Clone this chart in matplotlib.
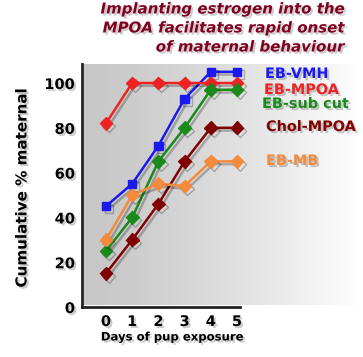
import matplotlib
matplotlib.use('Agg')
import matplotlib.pyplot as plt
import matplotlib.patheffects as pe
import numpy as np

# ---------------------------------------------------------------------------
# Data
# ---------------------------------------------------------------------------
days = [0, 1, 2, 3, 4, 5]

eb_vmh   = [45, 55, 72, 93, 105, 105]
eb_mpoa  = [82, 100, 100, 100, 100, 100]
eb_sub   = [25, 40, 65, 80, 97, 97]
chol     = [15, 30, 46, 65, 80, 80]
eb_mb    = [30, 50, 55, 54, 65, 65]

series_names = ['EB-VMH', 'EB-MPOA', 'EB-sub cut', 'Chol-MPOA', 'EB-MB']
series_vals  = [eb_vmh, eb_mpoa, eb_sub, chol, eb_mb]
colors       = ['#1a1aee', '#ee2222', '#1a8a1a', '#800000', '#f58a3a']
markers      = ['s', 'D', 'D', 'D', 'D']
yticks       = [0, 20, 40, 60, 80, 100]

title_lines = ['Implanting estrogen into the',
               'MPOA facilitates rapid onset',
               'of maternal behaviour']

# ---------------------------------------------------------------------------
# Figure
# ---------------------------------------------------------------------------
W, H = 363, 357
fig = plt.figure(figsize=(W / 100, H / 100), dpi=100)

# axes from pixel coords
x0_px, y0_px = 82, 307
ax = fig.add_axes([x0_px / W, (H - y0_px) / H, (W - x0_px) / W, (y0_px - 64) / H])
px_per_day = 26.2
px_per_unit = 2.24
xmin = -(106 - x0_px) / px_per_day
xmax = (W - 106) / px_per_day
ymax = (y0_px - 64) / px_per_unit
ax.set_xlim(xmin, xmax)
ax.set_ylim(0, ymax)

# gradient background
grad = np.linspace(0, 1, 256)
shade = 0.78 + 0.22 * grad ** 1.3
img = np.dstack([shade, shade, shade]).repeat(2, axis=0)
ax.imshow(img, extent=[xmin + 0.08, xmax, 1.0, ymax], aspect='auto',
          zorder=0, interpolation='bilinear')
ax.set_facecolor('white')

shadow_line = [pe.SimpleLineShadow(offset=(2, -2), alpha=0.25, shadow_color='black'),
               pe.Normal()]
shadow_txt = [pe.SimplePatchShadow(offset=(1.5, -1.5), alpha=0.2,
                                   shadow_rgbFace='black'),
              pe.Normal()]

for vals, c, m in zip(series_vals, colors, markers):
    ax.plot(days, vals, color=c, lw=1.8, marker=m, markersize=6.5 if m == 'D' else 6,
            path_effects=shadow_line, zorder=3, clip_on=False)

# series labels on the right
label_pos = [(265, 74), (264, 90), (262, 104), (266, 127), (266, 161)]
for name, c, (lx, ly) in zip(series_names, colors, label_pos):
    fig.text(lx / W, 1 - ly / H, name, color=c, fontsize=10.4, fontweight='bold',
             ha='left', va='center', path_effects=shadow_txt)

for s in ['top', 'right']:
    ax.spines[s].set_visible(False)
for s in ['left', 'bottom']:
    ax.spines[s].set_linewidth(2)
    ax.spines[s].set_color('#222222')
ax.spines['bottom'].set_bounds(xmin, 5.1)

ax.set_xticks(days)
ax.set_xticklabels([str(d) for d in days], fontsize=10.5, fontweight='bold')
ax.set_yticks(yticks)
ax.set_yticklabels([str(v) for v in yticks], fontsize=10.5, fontweight='bold')
ax.tick_params(length=0, pad=5)
for t in ax.get_xticklabels() + ax.get_yticklabels():
    t.set_path_effects(shadow_txt)

fig.text(172 / W, 1 - 337 / H, 'Days of pup exposure', fontsize=8.4,
         fontweight='bold', ha='center', va='center', path_effects=shadow_txt)
fig.text(22 / W, 1 - 188 / H, 'Cumulative % maternal', fontsize=10.9,
         fontweight='bold', rotation=90, ha='center', va='center',
         path_effects=shadow_txt)

for i, line in enumerate(title_lines):
    fig.text(344 / W, 1 - (9 + 19 * i) / H, line, fontsize=10.8, fontweight='bold',
             fontstyle='italic', color='#800020', ha='right', va='center',
             path_effects=shadow_txt)

fig.savefig('out.png', dpi=100)
